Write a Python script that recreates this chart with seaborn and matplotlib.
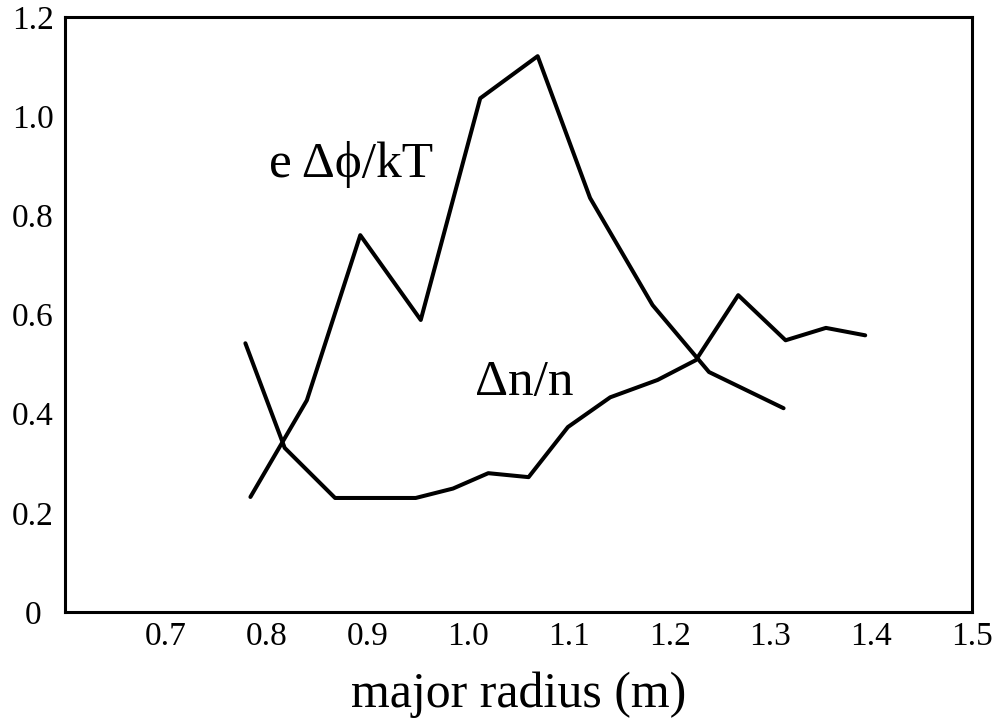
import matplotlib
matplotlib.use("Agg")
import matplotlib.pyplot as plt
import seaborn as sns
import pandas as pd

# Potential fluctuation profile, e*dphi/kT, versus major radius (m)
radius_phi = [0.784, 0.840, 0.893, 0.953, 1.012, 1.069, 1.121, 1.183, 1.239, 1.313]
e_dphi_kT = [0.232, 0.427, 0.760, 0.589, 1.036, 1.121, 0.835, 0.619, 0.484, 0.411]

# Density fluctuation profile, dn/n, versus major radius (m)
radius_n = [0.779, 0.818, 0.868, 0.948, 0.985, 1.020, 1.060, 1.099, 1.141,
            1.188, 1.226, 1.268, 1.315, 1.355, 1.394]
dn_n = [0.542, 0.331, 0.230, 0.230, 0.249, 0.280, 0.272, 0.373, 0.433,
        0.468, 0.508, 0.639, 0.548, 0.573, 0.558]

x_ticks = [0.7, 0.8, 0.9, 1.0, 1.1, 1.2, 1.3, 1.4, 1.5]
x_tick_labels = ["0.7", "0.8", "0.9", "1.0", "1.1", "1.2", "1.3", "1.4", "1.5"]
y_ticks = [0.0, 0.2, 0.4, 0.6, 0.8, 1.0, 1.2]
y_tick_labels = ["0", "0.2", "0.4", "0.6", "0.8", "1.0", "1.2"]

sns.set_theme(style="white")
plt.rcParams["font.family"] = ["Liberation Serif", "DejaVu Serif"]

fig = plt.figure(figsize=(9.98, 7.26), dpi=100)
ax = fig.add_axes([0.0651, 0.157, 0.9089, 0.8196])

phi_df = pd.DataFrame({"radius": radius_phi, "value": e_dphi_kT})
n_df = pd.DataFrame({"radius": radius_n, "value": dn_n})

sns.lineplot(data=phi_df, x="radius", y="value", sort=False, estimator=None,
             color="black", linewidth=2.9, ax=ax)
sns.lineplot(data=n_df, x="radius", y="value", sort=False, estimator=None,
             color="black", linewidth=2.9, ax=ax)

ax.set_xlim(0.6, 1.5)
ax.set_ylim(0.0, 1.2)
ax.set_xticks(x_ticks)
ax.set_xticklabels(x_tick_labels)
ax.set_yticks(y_ticks)
ax.set_yticklabels(y_tick_labels, ha="center")

ax.tick_params(axis="both", direction="in", length=3, width=1.8, colors="black",
               labelsize=24, top=False, right=False)
ax.tick_params(axis="x", pad=7)
ax.tick_params(axis="y", pad=23)

for side in ["left", "right", "top", "bottom"]:
    ax.spines[side].set_visible(True)
    ax.spines[side].set_color("black")
    ax.spines[side].set_linewidth(2.2)

ax.set_ylabel("")
ax.set_xlabel("major radius (m)", fontsize=36, labelpad=14, color="black")

ax.text(0.884, 0.877, "e \u0394\u03d5/kT", fontsize=37, ha="center",
        va="baseline", color="black")
ax.text(1.007, 0.4375, "\u0394n/n", fontsize=37, ha="left",
        va="baseline", color="black")

fig.savefig("out.png", dpi=100, facecolor="white")
